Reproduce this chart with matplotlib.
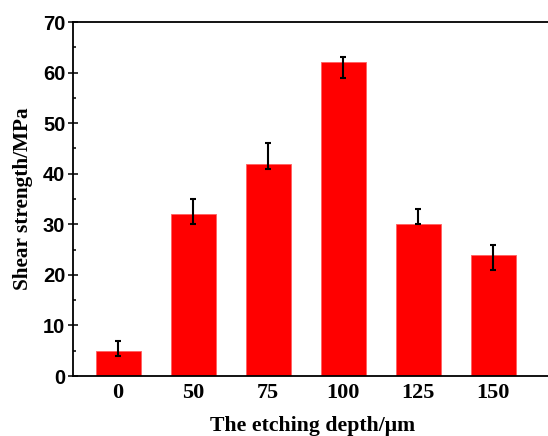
import matplotlib
matplotlib.use("Agg")
import matplotlib.pyplot as plt
import numpy as np

# etching depth categories and shear strength (MPa)
depths = ["0", "50", "75", "100", "125", "150"]
strength = [5, 32, 42, 62, 30, 24]
err_low = [1, 2, 1, 3, 0, 3]
err_high = [2, 3, 4, 1, 3, 2]

fig = plt.figure(figsize=(5.48, 4.36), dpi=100)
ax = fig.add_axes([73 / 548, 60 / 436, 495 / 548, 354 / 436])

x = np.arange(len(depths))
ax.bar(x, strength, width=0.6, color="#ff0000", edgecolor="#ff6060", linewidth=0.6, zorder=2)
ax.errorbar(x, strength, yerr=[err_low, err_high], fmt="none", ecolor="black",
            elinewidth=1.5, capsize=2.3, capthick=1.5, zorder=3)

# 75 px per category, left spine at -0.6
ax.set_xlim(-0.6, -0.6 + 495 / 75)
ax.set_ylim(0, 70)
ax.set_xticks(x)
ax.set_xticklabels(depths, fontfamily="Liberation Serif", fontweight="bold", fontsize=16)
ax.set_yticks(range(0, 71, 10))
ax.set_yticks(range(5, 70, 10), minor=True)
for lab in ax.get_yticklabels():
    lab.set_fontfamily("Liberation Sans")
    lab.set_fontweight("bold")
    lab.set_fontsize(14.5)

ax.tick_params(axis="x", length=0, pad=5)
ax.tick_params(axis="y", which="major", direction="inout", length=7, width=1.1, pad=2)
ax.tick_params(axis="y", which="minor", direction="in", length=2.5, width=1.1)

for s in ax.spines.values():
    s.set_linewidth(1.3)
ax.spines["right"].set_visible(False)

ax.set_xlabel("The etching depth/μm", fontfamily="Liberation Serif", fontweight="bold", fontsize=15.7)
ax.set_ylabel("Shear strength/MPa", fontfamily="Liberation Serif", fontweight="bold", fontsize=15.3)
ax.xaxis.set_label_coords(240 / 495, -0.113)
ax.yaxis.set_label_coords(-0.083 * 480 / 495, 0.5)

fig.savefig("out.png", dpi=100)
